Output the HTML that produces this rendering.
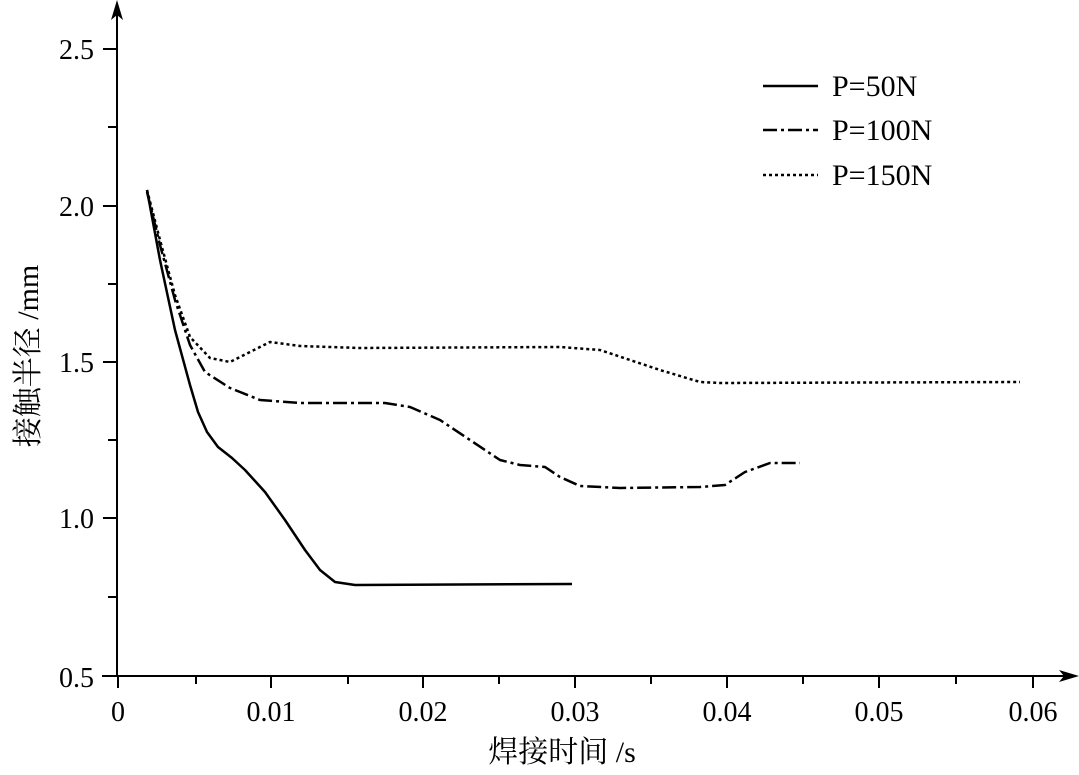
<!DOCTYPE html>
<html><head><style>body{margin:0;background:#fff}</style></head><body>
<svg width="1079" height="770" xmlns="http://www.w3.org/2000/svg" font-family="Liberation Serif, serif" font-size="28">
<g stroke="#000" stroke-width="2" fill="none">
<line x1="117" y1="677" x2="117" y2="10"/>
<line x1="102" y1="676" x2="1068" y2="676"/>
<line x1="103" y1="49" x2="117" y2="49"/>
<line x1="108" y1="127" x2="117" y2="127"/>
<line x1="103" y1="206" x2="117" y2="206"/>
<line x1="108" y1="284" x2="117" y2="284"/>
<line x1="103" y1="362" x2="117" y2="362"/>
<line x1="108" y1="440" x2="117" y2="440"/>
<line x1="103" y1="518" x2="117" y2="518"/>
<line x1="108" y1="597" x2="117" y2="597"/>
<line x1="118" y1="676" x2="118" y2="688"/><line x1="196" y1="676" x2="196" y2="684"/>
<line x1="271" y1="676" x2="271" y2="688"/><line x1="348" y1="676" x2="348" y2="684"/>
<line x1="423" y1="676" x2="423" y2="688"/><line x1="499" y1="676" x2="499" y2="684"/>
<line x1="575" y1="676" x2="575" y2="688"/><line x1="651" y1="676" x2="651" y2="684"/>
<line x1="727" y1="676" x2="727" y2="688"/><line x1="803" y1="676" x2="803" y2="684"/>
<line x1="879" y1="676" x2="879" y2="688"/><line x1="956" y1="676" x2="956" y2="684"/>
<line x1="1033" y1="676" x2="1033" y2="688"/>
</g>
<polygon points="117,0 111,20 117,15 123,20" fill="#000"/>
<polygon points="1079,676 1059,670 1064,676 1059,682" fill="#000"/>
<g text-anchor="end"><text x="94" y="59">2.5</text><text x="94" y="216">2.0</text><text x="94" y="372">1.5</text><text x="94" y="528">1.0</text><text x="94" y="687">0.5</text></g>
<g text-anchor="middle"><text x="118" y="721">0</text><text x="271" y="721">0.01</text><text x="423" y="721">0.02</text><text x="575" y="721">0.03</text><text x="727" y="721">0.04</text><text x="879" y="721">0.05</text><text x="1033" y="721">0.06</text></g>
<text x="562" y="762" text-anchor="middle" font-size="30" font-family="Liberation Serif, Noto Serif CJK SC, serif">焊接时间 /s</text>
<text transform="translate(38,356) rotate(-90)" text-anchor="middle" font-size="30" font-family="Liberation Serif, Noto Serif CJK SC, serif">接触半径 /mm</text>
<g fill="none" stroke="#000" stroke-width="2.5" stroke-linejoin="round">
<path d="M147,190 L160,260 L175,330 L190,385 L198,412 L207,432 L218,447 L232,458 L245,470 L265,492 L285,520 L305,550 L320,570 L335,582 L355,585 L572,584"/>
<path stroke-dasharray="14,4,3,4" d="M147,192 L160,245 L175,300 L190,345 L205,372 L230,388 L260,400 L300,403 L385,403 L410,407 L440,420 L470,440 L500,460 L520,465 L545,467 L560,477 L580,486 L620,488 L700,487 L725,485 L745,472 L770,463 L800,463"/>
<path stroke-dasharray="3,3" d="M147,190 L160,240 L175,295 L190,337 L210,358 L230,362 L250,352 L270,342 L300,346 L360,348 L560,347 L600,350 L630,360 L660,370 L700,382 L720,383 L1020,382"/>
<line x1="763" y1="86" x2="818" y2="86"/>
<line x1="763" y1="130" x2="818" y2="130" stroke-dasharray="14,4,3,4"/>
<line x1="763" y1="175" x2="818" y2="175" stroke-dasharray="3,3"/>
</g>
<g font-size="30"><text x="832" y="96">P=50N</text><text x="832" y="140">P=100N</text><text x="832" y="185">P=150N</text></g>
</svg>
</body></html>
